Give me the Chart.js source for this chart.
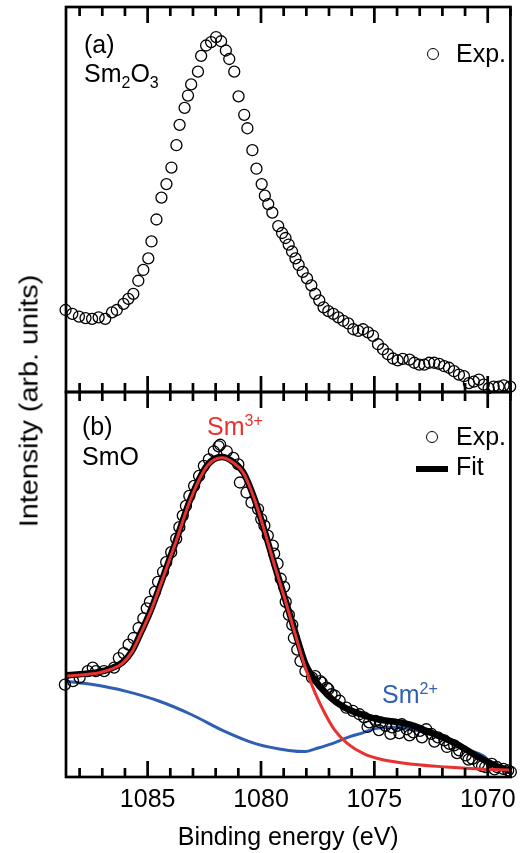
<!DOCTYPE html>
<html>
<head>
<meta charset="utf-8">
<script src="https://cdn.jsdelivr.net/npm/chart.js@4"></script>
<style>
  body { margin: 0; background: #fff; }
  #wrap { position: relative; width: 527px; height: 853px; font-family: "Liberation Sans", Arial, sans-serif; color: #000; }
  #wrap canvas { position: absolute; left: 0; top: 0; }
  .lbl { position: absolute; font-size: 25px; line-height: 1; white-space: nowrap; }
  .lbl .sub { font-size: 16px; vertical-align: -6px; }
  .lbl .sup { font-size: 16px; vertical-align: 9px; }
  .dot { position: absolute; width: 10px; height: 10px; border: 1.3px solid #000; border-radius: 50%; }
  .bar { position: absolute; width: 32px; height: 6px; background: #000; }
  #ytitle { position: absolute; left: 29px; top: 401px; transform: translate(-50%, -50%) rotate(-90deg) scaleX(1.15); font-size: 25px; line-height: 1; white-space: nowrap; }
</style>
</head>
<body>
<div id="wrap">
  <canvas id="xps" width="527" height="853"></canvas>
  <div id="ytitle">Intensity (arb. units)</div>
  <div class="lbl" style="left:84px; top:32px;">(a)</div>
  <div class="lbl" style="left:84px; top:61px;">Sm<span class="sub">2</span>O<span class="sub">3</span></div>
  <div class="dot" style="left:426.7px; top:47.7px;"></div>
  <div class="lbl" style="left:456px; top:41px;">Exp.</div>
  <div class="lbl" style="left:82px; top:414px;">(b)</div>
  <div class="lbl" style="left:82px; top:444px;">SmO</div>
  <div class="lbl" style="left:207px; top:413px; color:#e83232;">Sm<span class="sup">3+</span></div>
  <div class="lbl" style="left:382px; top:681px; color:#2f5fb3;">Sm<span class="sup">2+</span></div>
  <div class="dot" style="left:425.7px; top:430.7px;"></div>
  <div class="lbl" style="left:456px; top:424px;">Exp.</div>
  <div class="bar" style="left:416px; top:466px;"></div>
  <div class="lbl" style="left:456px; top:454px;">Fit</div>
</div>
<script>
  // (a) Sm2O3 experimental points
  const energyA = [1088.62, 1088.32, 1088.03, 1087.74, 1087.45, 1087.16, 1086.87, 1086.57, 1086.36, 1086.06,
    1085.85, 1085.63, 1085.41, 1085.19, 1084.97, 1084.83, 1084.61, 1084.39, 1084.17, 1083.95,
    1083.73, 1083.59, 1083.37, 1083.22, 1083.08, 1082.78, 1082.64, 1082.42, 1082.20, 1081.98,
    1081.76, 1081.55, 1081.40, 1081.18, 1080.99, 1080.74, 1080.60, 1080.38, 1080.20, 1079.97,
    1079.83, 1079.68, 1079.50, 1079.24, 1079.07, 1078.92, 1078.78, 1078.63, 1078.48, 1078.34,
    1078.16, 1077.97, 1077.78, 1077.61, 1077.43, 1077.24, 1077.03, 1076.81, 1076.59, 1076.37,
    1076.15, 1075.93, 1075.71, 1075.50, 1075.28, 1075.06, 1074.84, 1074.62, 1074.40, 1074.18,
    1073.97, 1073.75, 1073.45, 1073.24, 1073.02, 1072.80, 1072.58, 1072.36, 1072.14, 1071.92,
    1071.71, 1071.49, 1071.27, 1071.05, 1070.83, 1070.61, 1070.39, 1070.18, 1069.96, 1069.74,
    1069.52, 1069.30, 1069.01];
  const expA = [0.213, 0.203, 0.196, 0.192, 0.190, 0.194, 0.190, 0.207, 0.213, 0.229,
    0.242, 0.255, 0.289, 0.317, 0.347, 0.391, 0.448, 0.505, 0.540, 0.583,
    0.641, 0.694, 0.738, 0.770, 0.799, 0.832, 0.873, 0.900, 0.909, 0.922,
    0.911, 0.887, 0.865, 0.832, 0.768, 0.720, 0.685, 0.628, 0.580, 0.540,
    0.510, 0.488, 0.466, 0.431, 0.413, 0.400, 0.383, 0.365, 0.347, 0.330,
    0.312, 0.295, 0.277, 0.255, 0.238, 0.220, 0.210, 0.203, 0.194, 0.185,
    0.178, 0.163, 0.159, 0.163, 0.155, 0.146, 0.124, 0.111, 0.098, 0.087,
    0.082, 0.086, 0.084, 0.076, 0.071, 0.071, 0.076, 0.076, 0.073, 0.067,
    0.063, 0.054, 0.045, 0.041, 0.023, 0.027, 0.032, 0.019, 0.010, 0.014,
    0.014, 0.017, 0.014];

  // (b) SmO experimental points
  const energyB = [1088.65, 1088.29, 1088.00, 1087.64, 1087.42, 1087.28, 1086.92, 1086.48, 1086.27, 1086.05,
    1085.84, 1085.62, 1085.40, 1085.19, 1085.04, 1084.90, 1084.68, 1084.54, 1084.32, 1084.18,
    1083.96, 1083.74, 1083.60, 1083.45, 1083.31, 1083.16, 1082.95, 1082.73, 1082.52, 1082.30,
    1082.08, 1081.87, 1081.80, 1081.51, 1081.22, 1081.00, 1080.93, 1080.64, 1080.42, 1080.13,
    1079.99, 1079.85, 1079.70, 1079.48, 1079.42, 1079.27, 1079.13, 1078.98, 1078.91, 1078.77,
    1078.62, 1078.55, 1078.40, 1078.26, 1078.04, 1077.75, 1077.61, 1077.39, 1077.32, 1077.10,
    1077.03, 1076.89, 1076.74, 1076.53, 1076.24, 1075.95, 1075.66, 1075.45, 1075.30, 1075.23,
    1074.94, 1074.80, 1074.72, 1074.51, 1074.29, 1074.22, 1074.00, 1073.90, 1073.79, 1073.57,
    1073.45, 1073.28, 1072.99, 1072.90, 1072.71, 1072.49, 1072.35, 1072.20, 1071.91, 1071.80,
    1071.69, 1071.48, 1071.35, 1071.26, 1070.97, 1070.85, 1070.68, 1070.39, 1070.25, 1070.11,
    1069.82, 1069.70, 1069.60, 1069.31, 1069.10, 1068.98];
  const expB = [0.240, 0.249, 0.258, 0.275, 0.284, 0.275, 0.275, 0.284, 0.309, 0.322,
    0.344, 0.361, 0.387, 0.412, 0.438, 0.455, 0.481, 0.507, 0.533, 0.558,
    0.584, 0.619, 0.649, 0.679, 0.704, 0.730, 0.756, 0.782, 0.808, 0.825,
    0.846, 0.859, 0.863, 0.846, 0.829, 0.812, 0.765, 0.739, 0.713, 0.696,
    0.670, 0.653, 0.627, 0.601, 0.580, 0.554, 0.515, 0.494, 0.455, 0.421,
    0.395, 0.361, 0.331, 0.301, 0.275, 0.258, 0.262, 0.249, 0.245, 0.232,
    0.228, 0.215, 0.211, 0.198, 0.180, 0.172, 0.163, 0.155, 0.130, 0.142,
    0.146, 0.122, 0.142, 0.133, 0.112, 0.129, 0.133, 0.114, 0.137, 0.124,
    0.108, 0.116, 0.120, 0.103, 0.124, 0.112, 0.092, 0.103, 0.095, 0.078,
    0.086, 0.082, 0.062, 0.069, 0.056, 0.045, 0.047, 0.034, 0.028, 0.026,
    0.034, 0.020, 0.026, 0.021, 0.017, 0.013];

  // (b) total fit
  const fitEnergy = [1088.6, 1087.13, 1086.6, 1086.1, 1085.69, 1085.26, 1084.9, 1084.54, 1083.81, 1083.10,
    1082.37, 1081.72, 1081.22, 1080.78, 1080.28, 1079.85, 1079.42, 1078.95, 1078.51, 1078.05,
    1077.75, 1077.03, 1076.31, 1075.59, 1074.87, 1074.15, 1073.42, 1072.71, 1071.98, 1071.26,
    1070.54, 1069.82, 1069.0];
  const fitB = [0.264, 0.273, 0.282, 0.298, 0.327, 0.380, 0.427, 0.483, 0.603, 0.724,
    0.810, 0.831, 0.818, 0.791, 0.721, 0.641, 0.554, 0.465, 0.380, 0.295,
    0.262, 0.211, 0.180, 0.163, 0.150, 0.144, 0.136, 0.120, 0.103, 0.082,
    0.056, 0.034, 0.015];

  // (b) Sm3+ component
  const sm3Energy = [1088.6, 1087.13, 1086.6, 1086.1, 1085.69, 1085.26, 1084.9, 1084.54, 1083.81, 1083.10,
    1082.37, 1081.72, 1081.22, 1080.78, 1080.28, 1079.85, 1079.42, 1078.95, 1078.51, 1078.05,
    1077.61, 1077.18, 1076.74, 1076.17, 1075.45, 1074.72, 1073.28, 1071.84, 1070.39, 1069.0];
  const sm3 = [0.262, 0.271, 0.280, 0.296, 0.325, 0.378, 0.425, 0.481, 0.601, 0.722,
    0.808, 0.829, 0.816, 0.790, 0.720, 0.640, 0.553, 0.463, 0.375, 0.285,
    0.218, 0.165, 0.121, 0.086, 0.060, 0.046, 0.033, 0.026, 0.021, 0.018];

  // (b) Sm2+ component
  const sm2Energy = [1088.6, 1087.42, 1085.98, 1084.54, 1083.10, 1081.65, 1080.21, 1078.77, 1078.04, 1077.61,
    1076.89, 1076.17, 1075.45, 1075.01, 1074.00, 1072.56, 1071.12, 1070.12, 1069.82, 1069.0];
  const sm2 = [0.249, 0.240, 0.223, 0.198, 0.163, 0.120, 0.086, 0.069, 0.066, 0.073,
    0.086, 0.103, 0.116, 0.125, 0.129, 0.111, 0.075, 0.052, 0.032, 0.021];

  const xTickValues = [1085, 1080, 1075, 1070];

  const FONT = '"Liberation Sans", Arial, sans-serif';
  const RED = '#e83232';
  const BLUE = '#2f5fb3';

  function pts(xs, ys) {
    return xs.map((x, i) => ({ x: x, y: ys[i] }));
  }

  // frame + inward minor/major ticks on both panels
  const panelFrame = {
    id: 'panelFrame',
    afterDatasetsDraw(chart) {
      const { ctx, chartArea, scales } = chart;
      const x = scales.x;
      ctx.save();
      ctx.strokeStyle = '#000';
      ctx.lineWidth = 2.7;
      [scales.ya, scales.yb].forEach(s => {
        ctx.strokeRect(chartArea.left, s.top, chartArea.right - chartArea.left, s.bottom - s.top);
        ctx.beginPath();
        for (let v = Math.ceil(x.min); v <= Math.floor(x.max); v++) {
          const px = x.getPixelForValue(v);
          const len = v % 5 === 0 ? 16 : 9;
          ctx.moveTo(px, s.top);
          ctx.lineTo(px, s.top + len);
          ctx.moveTo(px, s.bottom);
          ctx.lineTo(px, s.bottom - len);
        }
        ctx.stroke();
      });
      ctx.restore();
    }
  };

  const circles = {
    showLine: false,
    pointStyle: 'circle',
    pointRadius: 5.5,
    pointBorderWidth: 1.3,
    pointBorderColor: '#000',
    pointBackgroundColor: 'rgba(0,0,0,0)',
    clip: false
  };

  const curve = {
    showLine: true,
    pointRadius: 0,
    cubicInterpolationMode: 'monotone',
    fill: false,
    yAxisID: 'yb'
  };

  new Chart(document.getElementById('xps'), {
    type: 'scatter',
    data: {
      datasets: [
        Object.assign({ label: 'Exp. Sm2O3', data: pts(energyA, expA), yAxisID: 'ya', order: 2 }, circles),
        Object.assign({ label: 'Sm3+', data: pts(sm3Energy, sm3), borderColor: RED, borderWidth: 3, order: 0 }, curve),
        Object.assign({ label: 'Fit', data: pts(fitEnergy, fitB), borderColor: '#000', borderWidth: 6.5, order: 1 }, curve),
        Object.assign({ label: 'Exp. SmO', data: pts(energyB, expB), yAxisID: 'yb', order: 2 }, circles),
        Object.assign({ label: 'Sm2+', data: pts(sm2Energy, sm2), borderColor: BLUE, borderWidth: 3, order: 3 }, curve)
      ]
    },
    options: {
      responsive: false,
      animation: false,
      layout: { padding: { left: 66, right: 9, top: 7, bottom: 0 } },
      plugins: {
        legend: { display: false },
        tooltip: { enabled: false }
      },
      scales: {
        x: {
          type: 'linear',
          reverse: true,
          min: 1069.0,
          max: 1088.6,
          grid: { display: false, drawTicks: false },
          border: { display: false },
          afterBuildTicks: s => { s.ticks = xTickValues.map(v => ({ value: v })); },
          ticks: { color: '#000', font: { family: FONT, size: 25, lineHeight: 1 }, padding: 11, maxRotation: 0, callback: v => String(v) },
          title: { display: true, text: 'Binding energy (eV)', color: '#000', font: { family: FONT, size: 25, lineHeight: 1 }, padding: { top: 2, bottom: 2 } }
        },
        // bottom panel axis is listed first so that panel (a) lands on top of the stack
        yb: { type: 'linear', position: 'left', stack: 'panels', stackWeight: 1, min: 0, max: 1, display: false },
        ya: { type: 'linear', position: 'left', stack: 'panels', stackWeight: 1, min: 0, max: 1, display: false }
      }
    },
    plugins: [panelFrame]
  });
</script>
</body>
</html>
